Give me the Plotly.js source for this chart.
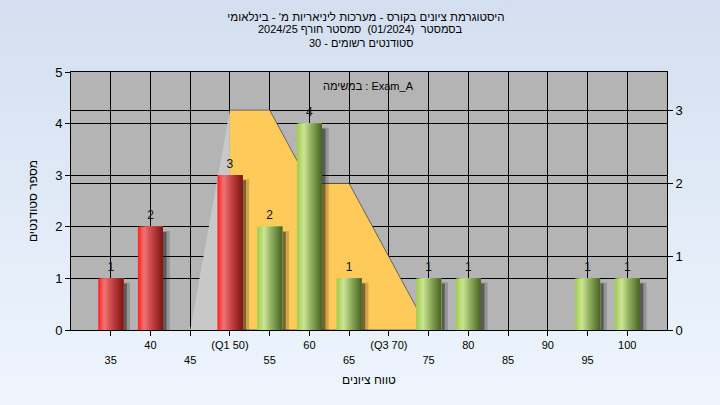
<!DOCTYPE html>
<html><head><meta charset="utf-8">
<script src="https://cdn.plot.ly/plotly-3.0.1.min.js"></script>
<style>
html,body{margin:0;padding:0;width:720px;height:405px;overflow:hidden;background:linear-gradient(#d3dff0,#eef5fd);}
#chart{width:720px;height:405px;}
</style></head><body><div id="chart"></div>
<script>
// ---- data ----
const grades = [35, 40, 50, 55, 60, 65, 75, 80, 95, 100];
const counts = [1, 2, 3, 2, 4, 1, 1, 1, 1, 1];
const tickVals = [35, 40, 45, 50, 55, 60, 65, 70, 75, 80, 85, 90, 95, 100];
const tickLabels = ['35', '40', '45', '(Q1 50)', '55', '60', '65', '(Q3 70)', '75', '80', '85', '90', '95', '100'];
const q1 = 50;
const q3 = 70;
const curveX = [50, 55, 60, 65, 75, 50];
const curveY = [3, 3, 2, 2, 0, 0];
const wedgeX = [45, 50, 50];
const wedgeY = [0, 3, 0];
const rightTicks = [0, 1, 2, 3];
const titleLine1 = "היסטוגרמת ציונים בקורס - מערכות ליניאריות מ' - בינלאומי";
const titleLine2 = 'בסמסטר  (01/2024)  סמסטר חורף 2024/25';
const titleLine3 = 'סטודנטים רשומים - 30';
const xTitle = 'טווח ציונים';
const yTitle = 'מספר סטודנטים';
const taskText = 'במשימה : Exam_A';

// ---- helpers ----
function mix(stops, t) {
  for (let i = 0; i < stops.length - 1; i++) {
    const [t0, c0] = stops[i], [t1, c1] = stops[i + 1];
    if (t >= t0 && t <= t1) {
      const f = (t - t0) / (t1 - t0);
      const c = c0.map((v, k) => Math.round(v + (c1[k] - v) * f));
      return 'rgb(' + c.join(',') + ')';
    }
  }
  const c = stops[stops.length - 1][1];
  return 'rgb(' + c.join(',') + ')';
}
const redStops = [[0, [255, 30, 30]], [0.25, [238, 118, 118]], [0.5, [206, 74, 74]], [1, [125, 21, 21]]];
const greenStops = [[0, [158, 203, 76]], [0.28, [204, 228, 148]], [0.55, [148, 178, 98]], [1, [72, 100, 36]]];

const barW = 3.15;
const N = 16;
const traces = [];

// orange band and grey wedge (right axis)
traces.push({type: 'scatter', x: wedgeX, y: wedgeY, xaxis: 'x', yaxis: 'y', mode: 'lines', fill: 'toself',
  fillcolor: '#c8c8c8', line: {width: 0}, hoverinfo: 'skip'});
traces.push({type: 'scatter', x: curveX, y: curveY, xaxis: 'x', yaxis: 'y', mode: 'lines', fill: 'toself',
  fillcolor: '#fecb5a', line: {width: 1, color: 'rgba(70,70,70,0.75)'}, hoverinfo: 'skip'});

// shadows
traces.push({type: 'bar', x: grades, y: counts.map(c => c - 0.08), yaxis: 'y2', offset: -barW / 2 + 0.4, width: barW + 0.45,
  marker: {color: 'rgba(20,20,20,0.2)', line: {width: 0}}, hoverinfo: 'skip'});
traces.push({type: 'bar', x: grades, y: counts.map(c => c - 0.1), yaxis: 'y2', offset: -barW / 2 + 0.3, width: barW + 0.15,
  marker: {color: 'rgba(20,20,20,0.45)', line: {width: 0}}, hoverinfo: 'skip'});

// cylinder bars as stripes
for (let i = 0; i < N; i++) {
  const t = (i + 0.5) / N;
  traces.push({type: 'bar', x: grades, y: counts, yaxis: 'y2',
    offset: -barW / 2 + i * barW / N, width: barW - i * barW / N,
    marker: {color: grades.map(g => g <= q1 ? mix(redStops, t) : mix(greenStops, t)), line: {width: 0}},
    hoverinfo: 'skip'});
}

// value labels (a little above each bar top)
traces.push({type: 'scatter', x: grades, y: counts.map(c => c + 0.09), yaxis: 'y2', mode: 'text', text: counts.map(String),
  textposition: 'top center', textfont: {size: 12, color: '#111'}, cliponaxis: false, hoverinfo: 'skip'});

const paperX = px => (px - 71) / 596;
const paperY = py => (330 - py) / 258;

const layout = {
  width: 720, height: 405,
  margin: {l: 71, r: 53, t: 72, b: 75},
  paper_bgcolor: 'rgba(0,0,0,0)', plot_bgcolor: '#b4b4b4',
  font: {family: 'Liberation Sans, Arial, sans-serif', color: '#000', size: 11},
  showlegend: false, barmode: 'overlay',
  title: {text: titleLine1, x: 366 / 720, xanchor: 'center', y: 1 - 17 / 405, yanchor: 'middle',
    font: {size: 11.5, color: '#000'}},
  xaxis: {range: [30, 105], tickmode: 'array', tickvals: tickVals,
    ticktext: tickVals.map((v, i) => v % 10 === 0 ? tickLabels[i] : '\u00a0<br>' + tickLabels[i]),
    tickangle: 0, ticks: 'outside', ticklen: 5, tickcolor: '#000', showgrid: true, gridcolor: '#000', gridwidth: 1,
    showline: true, linecolor: '#000', mirror: true, zeroline: false, tickfont: {size: 11},
    title: {text: xTitle, font: {size: 12}, standoff: 11}, automargin: false},
  yaxis: {range: [0, 3.52], side: 'right', tickmode: 'array', tickvals: rightTicks, ticks: 'outside', ticklen: 5,
    tickcolor: '#000', showgrid: true, gridcolor: '#000', gridwidth: 1, showline: true, linecolor: '#000', mirror: true,
    zeroline: false, tickfont: {size: 13}, automargin: false},
  yaxis2: {overlaying: 'y', side: 'left', range: [0, 5], dtick: 1, ticks: 'outside', ticklen: 5, tickcolor: '#000',
    showgrid: true, gridcolor: '#000', gridwidth: 1, zeroline: false, showline: false, tickfont: {size: 13},
    title: {text: yTitle, font: {size: 12}, standoff: 14}, automargin: false},
  annotations: [
    {xref: 'paper', yref: 'paper', x: paperX(360), y: paperY(29.5), text: titleLine2, showarrow: false,
      xanchor: 'center', yanchor: 'middle', font: {size: 11}},
    {xref: 'paper', yref: 'paper', x: paperX(361), y: paperY(42.5), text: titleLine3, showarrow: false,
      xanchor: 'center', yanchor: 'middle', font: {size: 11}},
    {xref: 'paper', yref: 'paper', x: paperX(368), y: paperY(86), text: taskText,
      showarrow: false, xanchor: 'center', yanchor: 'middle', font: {size: 11}}
  ]
};

Plotly.newPlot('chart', traces, layout, {staticPlot: true});
</script></body></html>
